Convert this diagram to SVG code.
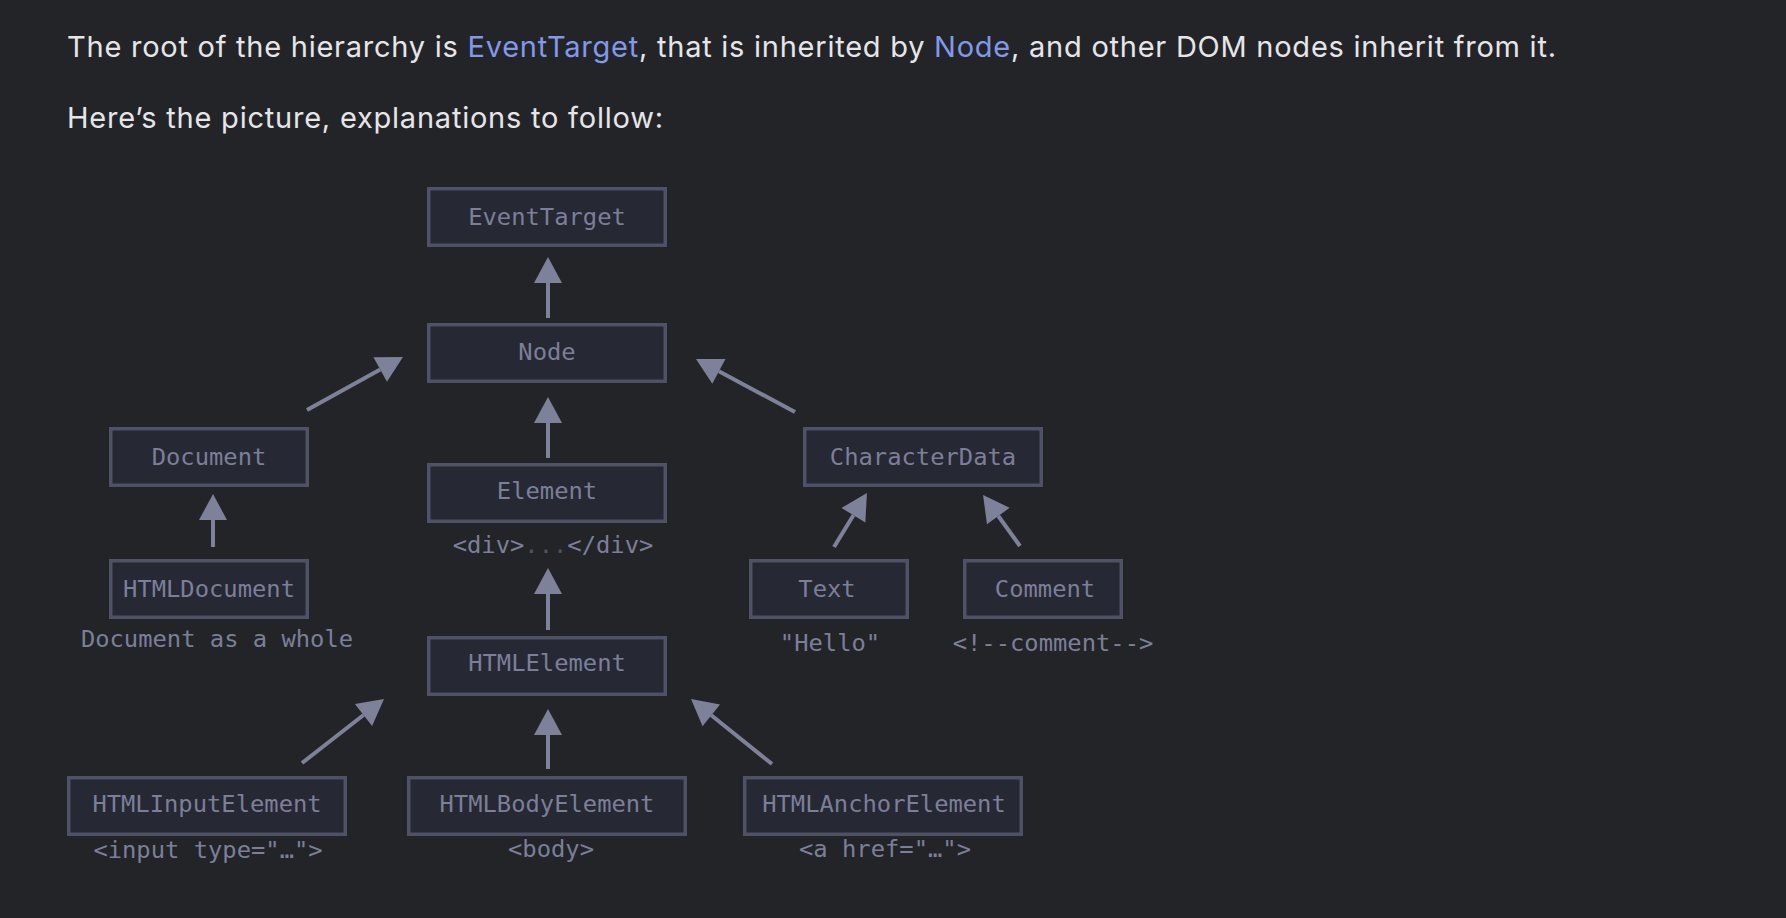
<svg xmlns="http://www.w3.org/2000/svg" width="1786" height="918" viewBox="0 0 1786 918">
<style>
.bg{fill:#232428}
.hd{font-family:Inter,"Noto Sans","Liberation Sans",sans-serif;font-size:29px;fill:#e6e6e9}
.lk{fill:#8199e8}
.box{fill:#262833;stroke:#4f5167;stroke-width:3.5}
.t{font-family:"DejaVu Sans Mono","Liberation Mono",monospace;font-size:23.8px;fill:#7b7f99;text-anchor:middle}
.dim{fill:#4f5166}
.ar{stroke:#7d8199;stroke-width:4;fill:none;marker-end:url(#ah)}
</style>
<defs>
<marker id="ah" markerWidth="26" markerHeight="28" refX="0" refY="14" orient="auto" markerUnits="userSpaceOnUse" overflow="visible">
<path d="M0,0 L26,14 L0,28 z" fill="#7d8199"/>
</marker>
</defs>
<rect class="bg" x="0" y="0" width="1786" height="918"/>
<text class="hd" x="67" y="57" textLength="1489" lengthAdjust="spacing">The root of the hierarchy is <tspan class="lk">EventTarget</tspan>, that is inherited by <tspan class="lk">Node</tspan>, and other DOM nodes inherit from it.</text>
<text class="hd" x="67" y="128" textLength="596" lengthAdjust="spacing">Here’s the picture, explanations to follow:</text>

<g id="connectors">
<line class="ar" x1="548" y1="318" x2="548" y2="283"/>
<line class="ar" x1="548" y1="458" x2="548" y2="423"/>
<line class="ar" x1="548" y1="630" x2="548" y2="594"/>
<line class="ar" x1="548" y1="769" x2="548" y2="735"/>
<line class="ar" x1="213" y1="547" x2="213" y2="520"/>
<line class="ar" x1="307" y1="410" x2="380.2" y2="369.6"/>
<line class="ar" x1="795" y1="412" x2="718.9" y2="371.3"/>
<line class="ar" x1="834" y1="547" x2="853.4" y2="515.2"/>
<line class="ar" x1="1020" y1="546" x2="998.3" y2="516"/>
<line class="ar" x1="302" y1="763" x2="363.5" y2="715"/>
<line class="ar" x1="772" y1="764" x2="711.3" y2="715.3"/>
</g>

<g id="EventTarget"><rect class="box" x="428.75" y="188.75" width="236.5" height="56.5"/><text class="t" x="547" y="225">EventTarget</text></g>
<g id="Node"><rect class="box" x="428.75" y="324.75" width="236.5" height="56.5"/><text class="t" x="547" y="360">Node</text></g>
<g id="Element"><rect class="box" x="428.75" y="464.75" width="236.5" height="56.5"/><text class="t" x="547" y="499">Element</text>
<text class="t" x="553" y="553">&lt;div&gt;<tspan class="dim">...</tspan>&lt;/div&gt;</text></g>
<g id="HTMLElement"><rect class="box" x="428.75" y="637.75" width="236.5" height="56.5"/><text class="t" x="547" y="671">HTMLElement</text></g>
<g id="Document"><rect class="box" x="110.75" y="428.75" width="196.5" height="56.5"/><text class="t" x="209" y="465">Document</text></g>
<g id="HTMLDocument"><rect class="box" x="110.75" y="560.75" width="196.5" height="56.5"/><text class="t" x="209" y="597">HTMLDocument</text>
<text class="t" x="217" y="647">Document as a whole</text></g>
<g id="CharacterData"><rect class="box" x="804.75" y="428.75" width="236.5" height="56.5"/><text class="t" x="923" y="465">CharacterData</text></g>
<g id="Text"><rect class="box" x="750.75" y="560.75" width="156.5" height="56.5"/><text class="t" x="827" y="597">Text</text>
<text class="t" x="830" y="651">"Hello"</text></g>
<g id="Comment"><rect class="box" x="964.75" y="560.75" width="156.5" height="56.5"/><text class="t" x="1045" y="597">Comment</text>
<text class="t" x="1053" y="651">&lt;!--comment--&gt;</text></g>
<g id="HTMLInputElement"><rect class="box" x="68.75" y="777.75" width="276.5" height="56.5"/><text class="t" x="207" y="812">HTMLInputElement</text>
<text class="t" x="208" y="858">&lt;input type="…"&gt;</text></g>
<g id="HTMLBodyElement"><rect class="box" x="408.75" y="777.75" width="276.5" height="56.5"/><text class="t" x="547" y="812">HTMLBodyElement</text>
<text class="t" x="551" y="857">&lt;body&gt;</text></g>
<g id="HTMLAnchorElement"><rect class="box" x="744.75" y="777.75" width="276.5" height="56.5"/><text class="t" x="884" y="812">HTMLAnchorElement</text>
<text class="t" x="885" y="857">&lt;a href="…"&gt;</text></g>
</svg>
